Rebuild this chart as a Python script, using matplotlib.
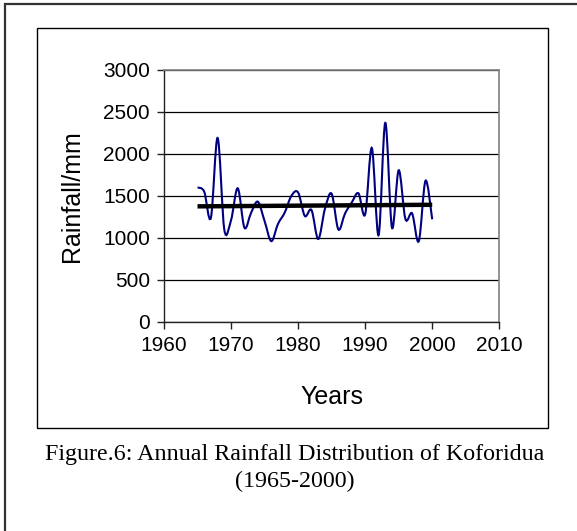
import matplotlib
matplotlib.use("Agg")
import matplotlib.pyplot as plt
import numpy as np
from matplotlib.path import Path
from matplotlib.patches import PathPatch, Rectangle

# annual rainfall at Koforidua
years = list(range(1965, 2001))
rainfall = [1600, 1550, 1240, 2190, 1095, 1210, 1590, 1120, 1300, 1430,
            1200, 960, 1165, 1300, 1500, 1540, 1260, 1330, 985, 1345,
            1525, 1100, 1290, 1420, 1530, 1280, 2070, 1030, 2370, 1120,
            1805, 1225, 1290, 960, 1680, 1220]

yticks = [0, 500, 1000, 1500, 2000, 2500, 3000]
xticks = [1960, 1970, 1980, 1990, 2000, 2010]
caption = "Figure.6: Annual Rainfall Distribution of Koforidua\n(1965-2000)"

fig = plt.figure(figsize=(5.77, 5.31), dpi=100)
fig.patch.set_facecolor("white")

# frames round the chart
fig.patches.append(Rectangle((0.0078, -0.5), 1.5, 1.4927, transform=fig.transFigure,
                             fill=False, edgecolor="#333333", lw=1.6))
fig.patches.append(Rectangle((0.0641, 0.1949), 0.8848, 0.7524, transform=fig.transFigure,
                             fill=False, edgecolor="black", lw=1.0))

ax = fig.add_axes([0.2842, 0.3942, 0.5811, 0.4740])

# smoothed line like the spreadsheet one: Catmull-Rom segments as cubic Beziers
pts = np.column_stack([years, rainfall]).astype(float)
n = len(pts)
verts = [pts[0]]
codes = [Path.MOVETO]
for i in range(n - 1):
    p0 = pts[max(i - 1, 0)]
    p1 = pts[i]
    p2 = pts[i + 1]
    p3 = pts[min(i + 2, n - 1)]
    verts += [p1 + (p2 - p0) / 6, p2 - (p3 - p1) / 6, p2]
    codes += [Path.CURVE4] * 3
ax.add_patch(PathPatch(Path(verts, codes), fill=False, edgecolor="#000080",
                       lw=1.5, zorder=3))

# linear trend
k, b = np.polyfit(years, rainfall, 1)
tx = np.array([years[0], years[-1]])
ax.plot(tx, k * tx + b, color="black", lw=3.2, zorder=4, solid_capstyle="butt")

ax.set_xlim(1960, 2010)
ax.set_ylim(0, 3000)
ax.set_xticks(xticks)
ax.set_yticks(yticks)
ax.yaxis.grid(True, color="black", lw=0.9)
ax.set_axisbelow(True)

for s in ["top", "right"]:
    ax.spines[s].set_color("#808080")
    ax.spines[s].set_linewidth(1.2)
for s in ["left", "bottom"]:
    ax.spines[s].set_color("#222222")
    ax.spines[s].set_linewidth(1.0)

ax.tick_params(direction="out", length=5, width=1, color="#222222",
               labelsize=15, pad=5)
for lab in ax.get_xticklabels() + ax.get_yticklabels():
    lab.set_fontfamily("Liberation Sans")

ax.set_ylabel("Rainfall/mm", fontsize=18, family="Liberation Sans")
ax.set_xlabel("Years", fontsize=18, family="Liberation Sans")
ax.yaxis.set_label_coords(-0.239, 0.5)
ax.xaxis.set_label_coords(0.5, -0.252)

fig.text(0.51, 0.119, caption, ha="center", va="center", fontsize=17.3,
         family="Liberation Serif", linespacing=1.33)

fig.savefig("out.png", dpi=100)
